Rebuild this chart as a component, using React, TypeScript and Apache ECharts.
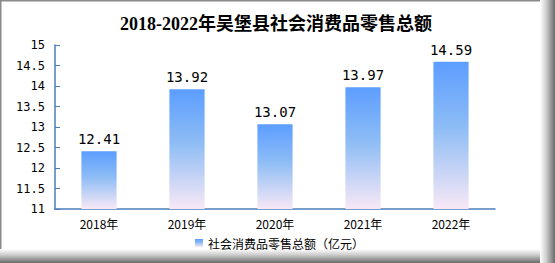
import React, { useEffect, useRef } from "react";
import * as echarts from "echarts";

const categories = ["2018年", "2019年", "2020年", "2021年", "2022年"];
const values = [12.41, 13.92, 13.07, 13.97, 14.59];
const seriesName = "社会消费品零售总额（亿元）";
const titleText = "2018-2022年吴堡县社会消费品零售总额";

export default function App() {
  const ref = useRef<HTMLDivElement>(null);
  useEffect(() => {
    const chart = echarts.init(ref.current!, null, { renderer: "svg" });
    const barGrad = new echarts.graphic.LinearGradient(0, 0, 0, 1, [
      { offset: 0, color: "#5C9DFF" },
      { offset: 0.45, color: "#8EBDF5" },
      { offset: 1, color: "#F8E8F6" },
    ]);
    chart.setOption({
      animation: false,
      backgroundColor: "#fff",
      title: {
        text: titleText,
        left: 271,
        textAlign: "center",
        top: 10,
        textStyle: {
          fontFamily: "'Liberation Serif', 'Noto Sans CJK SC', serif",
          fontWeight: "bold",
          fontSize: 18,
          color: "#000",
        },
      },
      legend: {
        data: [seriesName],
        left: 190,
        top: 232,
        itemWidth: 8,
        itemHeight: 8,
        itemGap: 4,
        textStyle: { fontSize: 12, color: "#000", fontFamily: "'Noto Sans CJK SC', sans-serif" },
        icon: "rect",
      },
      grid: { left: 55, right: 60, top: 45, bottom: 54, containLabel: false },
      xAxis: {
        type: "category",
        data: categories,
        axisLine: { lineStyle: { color: "#4A7EBB", width: 1.5 } },
        axisTick: { inside: true, length: 6, lineStyle: { color: "#4A7EBB" } },
        axisLabel: { color: "#000", fontSize: 12, margin: 8, fontFamily: "'Noto Sans CJK SC', sans-serif" },
      },
      yAxis: {
        type: "value",
        min: 11,
        max: 15,
        interval: 0.5,
        axisLine: { show: true, lineStyle: { color: "#4A7EBB", width: 1.5 } },
        axisTick: { show: true, inside: true, length: 5, lineStyle: { color: "#4A7EBB" } },
        splitLine: { show: false },
        axisLabel: { color: "#000", fontSize: 12, margin: 10, fontFamily: "'DejaVu Sans Mono', monospace" },
      },
      series: [
        {
          name: seriesName,
          type: "bar",
          data: values,
          barWidth: "40%",
          itemStyle: { color: barGrad },
          label: {
            show: true,
            position: "top",
            distance: 5,
            color: "#000",
            fontSize: 14,
            fontFamily: "'DejaVu Sans Mono', monospace",
            formatter: (p: any) => p.value.toFixed(2),
          },
        },
      ],
      graphic: [
        { type: "rect", shape: { x: 0, y: 0, width: 545, height: 1.5 }, style: { fill: "#8a8a8a" } },
        { type: "rect", shape: { x: 0, y: 0, width: 1.5, height: 250 }, style: { fill: "#8a8a8a" } },
        {
          type: "rect",
          shape: { x: 540, y: 0, width: 15, height: 263 },
          style: {
            fill: new echarts.graphic.LinearGradient(0, 0, 1, 0, [
              { offset: 0, color: "rgba(255,255,255,1)" },
              { offset: 0.4, color: "#d0d0d0" },
              { offset: 1, color: "#6a6a6a" },
            ]),
          },
        },
        {
          type: "rect",
          shape: { x: 0, y: 249, width: 540, height: 14 },
          style: {
            fill: new echarts.graphic.LinearGradient(0, 0, 0, 1, [
              { offset: 0, color: "rgba(255,255,255,1)" },
              { offset: 0.4, color: "#d0d0d0" },
              { offset: 1, color: "#6a6a6a" },
            ]),
          },
        },
      ],
    });
    return () => chart.dispose();
  }, []);
  return (
    <div
      ref={ref}
      style={{ position: "absolute", left: 0, top: 0, width: 555, height: 263 }}
    />
  );
}
